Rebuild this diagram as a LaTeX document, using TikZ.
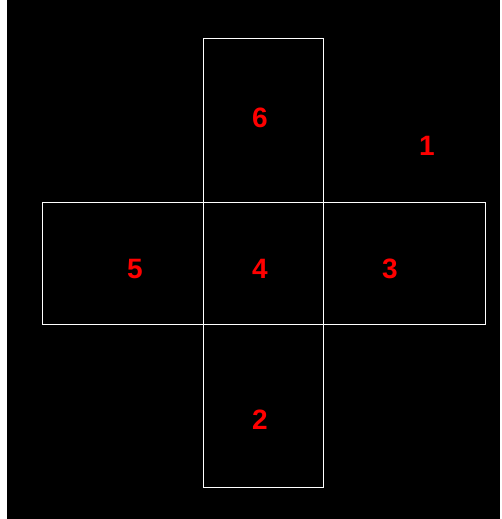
\documentclass[tikz,border=0pt]{standalone}
\usepackage{fontspec}
\setmainfont{Liberation Sans}
\usetikzlibrary{positioning}
\definecolor{facered}{HTML}{FF0000}

\begin{document}
\begin{tikzpicture}[x=1pt,y=-1pt,every node/.style={font=\fontsize{28}{30}\selectfont\bfseries},lbl/.style={text=facered,inner sep=0pt},edge/.style={draw=white,line width=1pt}]
\useasboundingbox (0,0) rectangle (501,519);
\fill[white] (0,0) rectangle (501,519);
\fill[black] (7,0) rectangle (500,519);
% the cross of faces
\draw[edge] (203,39) rectangle (323,487);
\draw[edge] (42,202) rectangle (485,324);
\node[lbl] (f6) at (260,118) {6};
\node[lbl] (f1) at (427,146) {1};
\node[lbl] (f5) at (135,269) {5};
\node[lbl] (f4) at (260,269) {4};
\node[lbl] (f3) at (390,269) {3};
\node[lbl] (f2) at (260,420) {2};
\end{tikzpicture}
\end{document}
